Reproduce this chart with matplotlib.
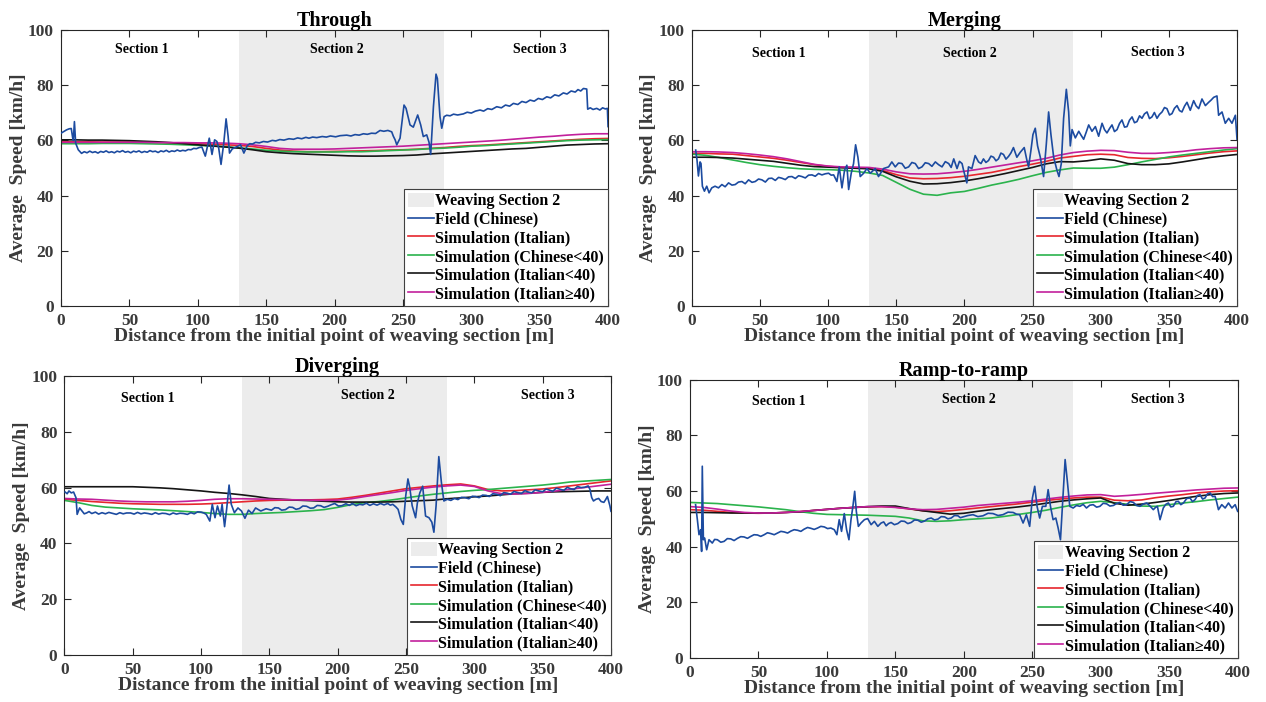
import numpy as np
import matplotlib
matplotlib.use("Agg")
import matplotlib.pyplot as plt
from matplotlib.patches import Patch
from matplotlib.lines import Line2D

plt.rcParams['font.family'] = ['Liberation Serif', 'DejaVu Serif']
plt.rcParams['font.weight'] = 'bold'

# positions (m) where the simulated curves were read
SIM_X = np.arange(0, 401, 10)

# ---------------- Through ----------------
through_field_x = [0, 2, 4, 6, 7.5, 8.5, 9, 9.8, 10.7, 12.6, 15, 17, 19, 21, 23, 25, 27, 29, 31, 33, 35, 37, 39, 41, 43, 45,
                   47, 49, 51, 53, 55, 57, 59, 61, 63, 65, 67, 69, 71, 73, 75, 77, 79, 81, 83, 85, 87, 89, 91, 93, 95, 97,
                   99, 101, 103, 105.5, 108.4, 110.4, 112.3, 114, 115.3, 117, 119, 120.7, 122.2, 123.2, 125.2, 128.8,
                   131.3, 133.7, 136.2, 138, 140, 142.3, 145, 148, 151, 154.5, 157, 160, 163, 166.7, 170, 173, 176, 179,
                   181.3, 184, 187, 191, 194, 197, 200.8, 204, 208.9, 212, 215, 218, 221.1, 224, 227, 230, 233.3, 236,
                   239, 241.8, 243, 244.3, 245.5, 247.9, 250.8, 252.3, 255.2, 257.6, 260.8, 263, 264.9, 267.4, 269.1,
                   270.3, 272.3, 274.2, 275.2, 277.1, 278.4, 280.1, 282, 284.5, 287, 290, 294.2, 297, 300, 303, 306.4,
                   309, 312, 315, 318.6, 322, 325, 328, 330.8, 334, 337, 340, 343, 346, 349, 352, 355.2, 358, 361, 364,
                   367.3, 370, 373, 376, 378, 380, 382, 384.4, 385.1, 387, 389, 391.7, 394, 396, 398, 399.5, 400]
through_field_y = [62.6, 63.2, 63.8, 64.2, 64.3, 61, 60, 66.8, 59, 56.6, 55.3, 55.9, 55.5, 56.1, 55.6, 55.9, 55.4, 56, 55.7,
                   56.2, 55.6, 55.9, 55.5, 56.1, 55.8, 56.3, 55.7, 56, 55.5, 56.1, 55.8, 56.2, 55.6, 56, 55.7, 56.3, 55.9,
                   56.1, 55.6, 56.2, 55.9, 56.4, 55.8, 56.2, 56, 56.5, 56.1, 56.4, 56.2, 56.7, 56.6, 57.1, 57, 57.4, 57.6,
                   54.3, 60.8, 54.9, 60.2, 59.6, 57.2, 51.3, 59, 67.8, 61.4, 55.4, 56.9, 57.8, 58.4, 55.4, 58.1, 58.8,
                   58.7, 59.3, 59.1, 59.6, 59.4, 60, 59.8, 60.3, 60.1, 60.6, 60.4, 60.9, 60.6, 61.1, 60.8, 61.2, 61, 61.4,
                   61.2, 61.6, 61.3, 61.7, 61.9, 61.6, 62.1, 61.9, 62.4, 62.2, 62.6, 62.5, 63.6, 63.3, 63.6, 63.1, 61.5,
                   60.2, 58.4, 60.8, 72.8, 71.6, 65.6, 64.8, 69.2, 65.6, 61.4, 62, 59.3, 54.9, 72.2, 84, 82.4, 68.6, 64.4,
                   68.6, 69.1, 68.9, 69.5, 69.2, 69.6, 70.2, 69.9, 70.6, 71, 70.6, 71.5, 71.2, 72.2, 71.8, 72.8, 72.4,
                   73.4, 73, 74.1, 73.7, 74.6, 74.2, 75.2, 74.8, 75.8, 75.4, 76.5, 76.1, 77.2, 76.8, 77.9, 77.5, 78.4,
                   77.9, 78.8, 78.6, 71.3, 71.8, 71.2, 71.6, 71, 71.8, 71.4, 71.6, 65]
through_red = [59.5, 59.5, 59.5, 59.4, 59.4, 59.4, 59.3, 59.2, 59.1, 58.9, 58.8, 58.6, 58.4, 58.2, 57.8, 57.1, 56.5, 56.1,
               55.9, 55.9, 56, 56.1, 56.2, 56.3, 56.5, 56.6, 56.8, 57.1, 57.4, 57.8, 58.1, 58.3, 58.6, 58.9, 59.2, 59.5,
               59.8, 60.1, 60.4, 60.6, 60.7]
through_green = [58.8, 58.8, 58.8, 58.9, 58.9, 58.9, 58.8, 58.7, 58.6, 58.4, 58.2, 58, 57.7, 57.3, 56.9, 56.4, 56.1, 55.9,
                 55.8, 55.8, 55.8, 55.9, 55.9, 56.1, 56.3, 56.5, 56.7, 57, 57.2, 57.5, 57.9, 58.1, 58.4, 58.7, 59, 59.3,
                 59.6, 59.9, 60.1, 60.2, 60.3]
through_black = [60.2, 60.2, 60.1, 60.1, 60, 59.9, 59.7, 59.5, 59.2, 58.8, 58.4, 58, 57.6, 57.2, 56.6, 55.9, 55.5, 55.2,
                 55, 54.8, 54.6, 54.4, 54.3, 54.3, 54.4, 54.5, 54.7, 55.1, 55.4, 55.7, 56, 56.3, 56.6, 56.9, 57.1, 57.5,
                 57.9, 58.3, 58.5, 58.7, 58.8]
through_magenta = [59.3, 59.3, 59.3, 59.3, 59.3, 59.3, 59.3, 59.2, 59.2, 59.2, 59.1, 59.1, 59, 58.8, 58.4, 57.8, 57.1,
                   56.8, 56.8, 56.8, 56.9, 57.1, 57.3, 57.5, 57.7, 57.9, 58.2, 58.5, 58.8, 59.1, 59.4, 59.7, 60, 60.4,
                   60.8, 61.2, 61.5, 61.9, 62.2, 62.4, 62.4]

# ---------------- Merging ----------------
merging_field_x = [2.9, 3.9, 4.9, 6.1, 6.8, 7.8, 9.3, 11, 12.7, 14.7, 17.1, 19.6, 22.1, 24.5, 27, 29.5, 31.9, 34.3, 36.8,
                   39.2, 41.7, 44.2, 46.6, 49, 51.5, 54, 56.4, 58.8, 61.3, 63.7, 66.1, 68.6, 71, 73.5, 76, 78.4, 80.8,
                   83.3, 85.7, 88.2, 90.6, 93, 95.5, 98, 100.4, 102.3, 104.1, 106.5, 108.2, 110.2, 112.1, 113.8, 115.1,
                   117, 118.7, 120.2, 121.9, 123.6, 126.1, 128.5, 131, 134.6, 137, 140.7, 144.4, 146.8, 149.3, 151.7,
                   154.2, 156.6, 159.1, 161.5, 164, 166.4, 168.9, 171.3, 173.8, 176.2, 178.7, 181.1, 183.6, 186, 188.5,
                   190.3, 192.2, 194.6, 196.4, 198.3, 199.4, 201.8, 203, 205.5, 207.9, 210.4, 212.2, 214, 215.8, 217.7,
                   219.5, 221.4, 223.2, 225, 226.8, 228.7, 230.5, 232.4, 234.2, 236, 238.5, 241, 243.9, 245.9, 247.1,
                   248.8, 250.3, 252, 253.7, 255.7, 258.1, 260.1, 261.8, 263.5, 265.5, 267.9, 269.4, 271.1, 272.8,
                   274.8, 276.5, 277.7, 279, 281.4, 283.9, 285.7, 287.5, 289.4, 291.2, 293.6, 296.1, 298.5, 301, 302.8,
                   304.6, 306.5, 308.3, 310.1, 312, 313.8, 315.6, 317.5, 319.3, 321.1, 323, 324.8, 326.6, 328.5, 330.3,
                   332.1, 334, 335.8, 337.6, 339.4, 341.3, 343.1, 345, 346.8, 348.6, 350.5, 352.3, 354.1, 356, 357.8,
                   359.6, 361.5, 363.3, 365.7, 368.2, 370, 371.9, 374.3, 376.8, 379.2, 381, 382.9, 385.3, 386.5, 389,
                   391.4, 393.9, 396.3, 398.8, 400]
merging_field_y = [56.5, 52.7, 47.1, 52.2, 51.6, 43.4, 41.6, 43.4, 41, 42.8, 43.4, 42.8, 44, 43.2, 44.6, 43.8, 44, 44.9,
                   45.1, 44.3, 45.7, 44.8, 45.1, 46, 45.7, 44.9, 46.2, 46.3, 45.5, 46.6, 46.3, 45.8, 46.8, 46.9, 46.2,
                   47.2, 46.9, 46.4, 47.4, 47.5, 47, 48, 47.5, 47.9, 48.1, 47.4, 47.5, 45.1, 50.4, 42.8, 49.2, 51, 42.2,
                   48.1, 51.6, 58.4, 53.9, 46.9, 48.1, 49.8, 48.1, 49.8, 46.9, 49.8, 50.4, 52.2, 50.4, 51.8, 51.6, 49.9,
                   50.4, 52, 51.6, 49.8, 50.4, 51.9, 51.6, 50.6, 52.2, 51.2, 50.4, 52.3, 51.6, 50.2, 53.3, 49.8, 52.4,
                   51.6, 49.2, 44.6, 50.4, 49.8, 54.5, 52.2, 51.6, 53.3, 52, 52.7, 54.3, 53.9, 52.6, 53.3, 55.4, 54.9,
                   53.2, 54.2, 55.5, 57.4, 53.9, 55.7, 57.4, 52.7, 50.4, 56.3, 62.1, 64.4, 58, 53.9, 46.9, 58.6, 70.3,
                   62.1, 53.9, 49.2, 46.9, 51.6, 68, 78.5, 70.3, 58, 63.9, 60.9, 63.3, 61.8, 60.4, 63, 65.6, 63.3, 65,
                   61.5, 66.2, 63.9, 62.7, 64.3, 65.6, 63.2, 63.9, 66.1, 67.4, 64.8, 65, 67.3, 68.5, 66.4, 66.8, 68.9,
                   68, 69.6, 70.3, 67.9, 68.5, 70.1, 68, 69.4, 70.3, 71.9, 71.5, 69.2, 69.7, 71.6, 72.6, 70.8, 70.3,
                   72.4, 73.8, 70.9, 74.4, 72.5, 71.5, 75, 72.6, 73.8, 74.6, 75.6, 76.1, 69.1, 70.3, 66.2, 68, 66.2,
                   69.1, 60.4]
merging_red = [55.3, 55.3, 55.1, 55, 54.5, 54, 53.5, 52.8, 52, 51.2, 50.6, 50.2, 50.1, 49.9, 49.1, 47.6, 46.4, 46.1, 46.2,
               46.5, 47, 47.7, 48.4, 49.4, 50.5, 51.4, 52.4, 53.6, 54.2, 54.8, 55, 54.8, 53.8, 53.5, 53.4, 53.7, 54.2,
               54.8, 55.4, 55.9, 56.2]
merging_green = [55, 54.6, 53.8, 52.9, 52, 51.2, 50.6, 50.1, 49.7, 49.5, 49.4, 49.2, 48.8, 48.2, 47.3, 44.8, 42.3, 40.5,
                 40.1, 41, 41.5, 42.6, 43.8, 44.8, 45.9, 47.2, 48.4, 49.3, 50, 49.9, 49.9, 50.3, 51.2, 52.2, 53.1, 54,
                 54.7, 55.3, 55.9, 56.5, 57]
merging_black = [53.9, 53.9, 53.8, 53.6, 53.2, 52.8, 52.4, 51.7, 51, 50.5, 50.3, 50.1, 49.9, 49.7, 48.8, 46.8, 45.2, 44.2,
                 44.3, 44.7, 45.3, 46.1, 47, 48, 49.1, 50.2, 51.5, 52.3, 52.2, 52.6, 53.3, 52.8, 51.6, 51.2, 51.2, 51.5,
                 52.2, 53, 53.8, 54.4, 54.9]
merging_magenta = [55.9, 55.9, 55.8, 55.6, 55.2, 54.7, 54.1, 53.3, 52.3, 51.3, 50.7, 50.4, 50.3, 50.2, 49.6, 48.6, 47.9,
                   47.8, 47.9, 48.3, 48.8, 49.5, 50.3, 51.1, 51.9, 52.6, 53.5, 54.7, 55.6, 56.1, 56.4, 56.3, 55.7, 55.3,
                   55.3, 55.6, 56, 56.6, 57, 57.3, 57.4]

# ---------------- Diverging ----------------
diverging_field_x = [0.5, 2, 3.3, 5, 6.7, 8.5, 9.3, 11.1, 12.9, 14.5, 16.2, 18, 20, 22.7, 25, 27.5, 30, 32.5, 35.5, 38,
                     40.5, 43, 45.5, 48.4, 51, 53.5, 56, 58.5, 61.3, 64, 66.5, 69, 71.5, 74.2, 77, 79.5, 82, 84.5, 87.1,
                     90, 92.5, 95, 97.5, 100, 102, 103.8, 106.4, 108.2, 110.2, 112, 114.1, 115.4, 117.2, 118.7, 120.5,
                     122.1, 124.4, 127, 129.6, 132.1, 134.7, 137.3, 139.9, 143.7, 147.6, 151.5, 154, 156.6, 159, 161.8,
                     164.5, 167, 169.5, 172, 174.5, 177.2, 180, 182.4, 185, 187.5, 190, 192.7, 195, 197.8, 200.5, 203,
                     206, 208.5, 210.7, 213.5, 216, 218.4, 221, 223.5, 226.1, 228.8, 231.3, 233.9, 236.6, 238.5, 240.3,
                     242.5, 244.2, 246.2, 248, 249.8, 251.4, 252.7, 254.5, 257, 258.3, 260.1, 262.2, 264.3, 266.8,
                     268.9, 270.4, 272, 274, 275.9, 277.7, 280.2, 282.8, 285.4, 288, 290.5, 293.1, 296, 298.5, 300.8,
                     303.5, 306, 308.6, 311, 313.5, 316.3, 319, 321.5, 324, 326.5, 329, 331.8, 334.5, 337, 339.5, 342,
                     344.6, 347.2, 350, 352.5, 355, 357.5, 360, 362.7, 365.5, 368, 370.4, 373, 375.5, 378.1, 380.7,
                     383.3, 384.6, 385.9, 387.2, 389, 391, 392.8, 394.8, 396, 397.4, 399.2, 400]
diverging_field_y = [58.4, 57.8, 58.8, 58.1, 58.4, 56.3, 50.4, 52.7, 51.6, 50.6, 50.9, 51.4, 50.7, 51.2, 50.5, 51, 50.6,
                     51.1, 50.7, 50.4, 51, 50.6, 50.9, 50.9, 50.5, 51.1, 50.6, 50.9, 50.7, 50.4, 51, 50.5, 50.8, 50.7,
                     50.3, 50.9, 50.5, 50.8, 50.7, 50.4, 51, 50.6, 51.3, 51.2, 50.9, 50.4, 48, 54, 49.2, 53.4, 49.8, 54,
                     46, 52.2, 60.9, 54, 51, 52.7, 51.6, 49, 51.9, 50.7, 52.7, 51.6, 52.4, 51.9, 52.8, 52.7, 51.9, 52.1,
                     53, 52.9, 52.2, 52.5, 53.4, 53.3, 52.6, 52.7, 53.6, 53.5, 52.9, 53.3, 53.8, 54.3, 53.4, 53.5, 54.2,
                     53.6, 54.3, 53.5, 54, 53.8, 54.4, 53.6, 54.2, 53.7, 54.3, 53.8, 54.3, 53.7, 54, 53.1, 52.2, 48.6,
                     46.8, 57.1, 63.1, 60.1, 53.5, 49.2, 54.5, 58.1, 60.5, 49.8, 49.2, 47.6, 44, 53.5, 71.1, 61.8, 55.2,
                     55.8, 55.4, 56.1, 55.7, 56.5, 56.4, 56, 56.9, 56.8, 56.4, 57.3, 57.2, 56.8, 57.8, 57.6, 57.1, 58.2,
                     58, 57.6, 58.6, 58.2, 57.9, 58.9, 58.4, 58.1, 59.2, 58.8, 58.5, 59.5, 59.1, 58.7, 59.8, 59.4, 59,
                     60.1, 59.6, 59.3, 60.4, 60, 60.1, 60.6, 59.4, 56.4, 55.2, 55.8, 56.1, 55, 54.7, 55.6, 56.8, 53.5,
                     51.5]
diverging_red = [55.8, 55.4, 55, 54.7, 54.4, 54.2, 54.1, 54, 54, 54, 54.1, 54.3, 54.6, 54.9, 55.2, 55.4, 55.5, 55.5,
                 55.6, 55.7, 55.9, 56.5, 57.2, 58, 58.8, 59.6, 60.1, 60.6, 61, 61.3, 60.6, 59.3, 58.8, 58.9, 59.2, 59.5,
                 60, 60.6, 61.2, 61.8, 62.4]
diverging_green = [55.4, 54.6, 53.6, 53, 52.7, 52.4, 52.2, 52, 51.7, 51.4, 51.1, 50.7, 50.4, 50.4, 50.7, 50.9, 51.1,
                   51.4, 51.7, 52.1, 52.9, 53.9, 54.6, 55, 55.6, 56.3, 57, 57.6, 58.1, 58.6, 59, 59.3, 59.7, 60.1, 60.5,
                   60.9, 61.4, 62, 62.3, 62.6, 62.9]
diverging_black = [60.3, 60.3, 60.3, 60.3, 60.3, 60.3, 60.1, 59.9, 59.6, 59.2, 58.8, 58.3, 57.9, 57.4, 56.8, 56.1, 55.8,
                   55.5, 55.3, 55.1, 54.9, 54.8, 54.8, 54.8, 54.9, 55.1, 55.3, 55.5, 56, 56.3, 56.7, 57, 57.4, 57.8, 58,
                   58.3, 58.5, 58.6, 58.7, 58.8, 58.8]
diverging_magenta = [56.1, 55.9, 55.8, 55.5, 55.2, 55, 54.9, 54.9, 54.9, 55.1, 55.4, 55.8, 56, 56, 55.9, 55.8, 55.7,
                     55.6, 55.5, 55.4, 55.5, 56, 56.8, 57.5, 58.2, 59, 59.6, 60.2, 60.6, 60.9, 60.4, 58.8, 57.8, 57.7,
                     57.9, 58.3, 58.8, 59.4, 60, 60.6, 61.2]

# ---------------- Ramp-to-ramp ----------------
ramp_field_x = [4.1, 5.4, 6.6, 7.8, 8.5, 9, 9.8, 10.7, 12.2, 13.9, 16.3, 18, 20, 22.5, 24.9, 27.3, 29.8, 32.2, 34.7,
                37.1, 39.5, 42, 44.4, 46.8, 49.3, 51.7, 54.2, 56.6, 59.1, 61.5, 63.9, 66.4, 68.8, 71.3, 73.7, 76.1,
                78.6, 81, 83.4, 85.9, 88.3, 90.7, 93.2, 95.6, 98.1, 100.5, 102.9, 105.4, 107.3, 109, 110.7, 112.7,
                114.4, 116.1, 117.6, 119, 120.3, 121.5, 123, 124.9, 127.4, 129.8, 132.3, 134.7, 137.2, 139.6, 141.5,
                143.3, 145, 146.9, 149.3, 151.8, 154.2, 156.7, 159.1, 161.6, 164, 166.4, 168.9, 171.3, 173.7, 176.2,
                178.6, 181.1, 183.5, 186, 188.4, 190.8, 193.2, 195.7, 197.5, 199.4, 203, 206.7, 210.3, 214, 217.7,
                221.3, 225, 228.6, 232.3, 236, 238.4, 240.8, 243.3, 245.7, 248.1, 250.1, 251.8, 253.5, 255.4, 257.4,
                259.9, 261.6, 263.3, 265.2, 267.2, 268.9, 270.6, 272.6, 274, 275.5, 277.4, 279.9, 282.3, 284.8, 287.2,
                289.6, 292, 294.5, 297, 299.4, 301.8, 304.3, 306.7, 309.2, 311.6, 314, 316.5, 318.9, 321.4, 323.8,
                326.3, 328.7, 331.2, 333.6, 336, 338.4, 340, 341.4, 343.3, 345.7, 347.5, 349.4, 351.2, 353, 355, 356.7,
                358.5, 360.4, 362.8, 365.2, 367, 368.9, 370.7, 372.5, 374.4, 376.2, 378, 379.9, 381.7, 383.5, 384.5,
                386, 388.4, 390.9, 393.3, 395.8, 398.2, 400]
ramp_field_y = [55.1, 49.7, 44.3, 46.1, 38.3, 68.9, 42.5, 43.1, 38.9, 42.5, 41.3, 42.6, 42.5, 41.6, 41.9, 42.9, 42.8,
                42.2, 43, 43.6, 43.5, 43, 43.7, 44.3, 44.2, 43.7, 44.3, 45, 44.7, 44.3, 44.9, 45.5, 45.3, 44.9, 45.6,
                46.1, 45.9, 45.5, 46.3, 46.9, 46.6, 46.2, 46.7, 47.3, 47.1, 46.5, 46.7, 46.1, 44.3, 49.7, 45.5, 51.9,
                46.1, 42.5, 49.7, 54.5, 59.9, 52.7, 47.3, 48.5, 49.7, 50.1, 47.9, 49.1, 47.3, 48.5, 48.9, 47.5, 48.3,
                48.7, 47.9, 48.3, 49.2, 49.1, 48.3, 48.7, 49.6, 49.5, 48.8, 49.2, 50, 50.3, 49.6, 49.9, 50.8, 50.7, 50,
                50.3, 51.2, 51.1, 50.4, 50.7, 51.2, 51.5, 50.8, 51.1, 52, 51.9, 51.2, 51.5, 52.4, 52.3, 51.7, 51.5,
                48.5, 51.5, 47.3, 57.5, 61.7, 54.5, 50.3, 54.5, 54.5, 60.5, 54.5, 49.7, 50.3, 46.7, 42.5, 59.3, 71.3,
                64.1, 54.5, 53.9, 54.8, 54.5, 55.2, 53.9, 54.9, 55.1, 54.2, 54.5, 55.6, 55.4, 54.6, 54.8, 55.5, 55.9,
                54.9, 55.1, 56.2, 55.9, 54.8, 54.5, 55.4, 55.7, 54.6, 53.3, 54.1, 54.5, 49.7, 53.9, 55.2, 55.7, 54.3,
                54.5, 56.2, 56.3, 55.1, 55.7, 57.3, 57.5, 56.2, 56.9, 58.4, 58.7, 57.1, 57.5, 59, 59.3, 58, 58.1, 56.4,
                53.3, 55.1, 53.9, 55.7, 53.9, 55.1, 52.7]
ramp_red = [53.3, 53.1, 52.7, 52.3, 52.1, 52, 52.1, 52.3, 52.6, 53, 53.4, 53.8, 54.1, 54.3, 54.4, 54.2, 53.6, 52.9, 52.6,
            52.9, 53.4, 53.9, 54.4, 54.9, 55.4, 56, 56.6, 57.1, 57.5, 57.8, 57.8, 56.7, 56.5, 56.8, 57.6, 58.2, 58.7,
            59.3, 59.7, 60, 60.1]
ramp_green = [55.9, 55.7, 55.5, 55.1, 54.7, 54.3, 53.8, 53.3, 52.6, 52, 51.6, 51.5, 51.4, 51.3, 51.1, 50.9, 50.3, 49.3,
              49.1, 49.3, 49.7, 50, 50.3, 50.9, 51.6, 52.3, 53.1, 54.1, 55, 55.8, 56.3, 55.8, 55.2, 54.6, 54.5, 55.1,
              55.7, 56.2, 56.8, 57.3, 57.8]
ramp_black = [52.3, 52.3, 52.2, 52.1, 52.1, 52.1, 52.1, 52.3, 52.5, 53, 53.4, 53.8, 54.1, 54.4, 54.6, 54.6, 53.7, 52.9,
              52.3, 51.7, 52, 52.7, 53.3, 53.8, 54.3, 54.9, 55.6, 56.3, 56.8, 57.2, 57.5, 55.6, 54.9, 55.3, 55.9, 56.6,
              57.4, 58.1, 58.7, 59.1, 59.3]
ramp_magenta = [54.4, 54.1, 53.5, 52.8, 52.3, 52.1, 52.1, 52.3, 52.6, 53, 53.4, 53.8, 54.1, 54.4, 54.4, 54.1, 53.6, 53.3,
                53.4, 53.8, 54.2, 54.8, 55.2, 55.6, 56, 56.5, 57.1, 57.7, 58.2, 58.6, 58.7, 58.1, 58.4, 58.8, 59.2, 59.6,
                60, 60.4, 60.7, 61, 61.1]

WEAVE_START, WEAVE_END = 130, 280
SECTION_LABELS = ['Section 1', 'Section 2', 'Section 3']
LEGEND_LABELS = ['Weaving Section 2', 'Field (Chinese)', 'Simulation (Italian)', 'Simulation (Chinese<40)',
                 'Simulation (Italian<40)', 'Simulation (Italian\u226540)']

C_FIELD = '#1c4ba0'
C_RED = '#e6262e'
C_GREEN = '#2bb34d'
C_BLACK = '#151515'
C_MAGENTA = '#c2209c'
C_SPAN = '#ececec'
C_TXT = '#3a3a3a'


def draw_panel(ax, title, fx, fy, red, green, black, magenta, sec_pos):
    ax.axvspan(WEAVE_START, WEAVE_END, color=C_SPAN, lw=0, zorder=0)
    ax.plot(SIM_X, red, color=C_RED, lw=1.2, zorder=2)
    ax.plot(SIM_X, green, color=C_GREEN, lw=1.2, zorder=2)
    ax.plot(SIM_X, black, color=C_BLACK, lw=1.2, zorder=2)
    ax.plot(SIM_X, magenta, color=C_MAGENTA, lw=1.2, zorder=2)
    ax.plot(fx, fy, color=C_FIELD, lw=1.2, zorder=3)

    for lab, (sx, sy) in zip(SECTION_LABELS, sec_pos):
        ax.text(sx, sy, lab, ha='center', va='center', fontsize=10, fontweight='bold', color='black')

    ax.set_xlim(0, 400)
    ax.set_ylim(0, 100)
    ax.set_xticks(np.arange(0, 401, 50))
    ax.set_yticks(np.arange(0, 101, 20))
    ax.tick_params(direction='in', top=True, right=True, length=5, width=0.8, labelsize=12.5,
                   labelcolor=C_TXT, color='#262626', pad=5)
    for lbl in ax.get_xticklabels() + ax.get_yticklabels():
        lbl.set_fontweight('bold')
    for sp in ax.spines.values():
        sp.set_color('#262626')
        sp.set_linewidth(0.8)

    ax.set_title(title, fontsize=14.5, fontweight='bold', color='black', pad=3)
    ax.set_xlabel('Distance from the initial point of weaving section [m]', fontsize=14,
                  fontweight='bold', color=C_TXT, labelpad=-1)
    ax.set_ylabel('Average  Speed [km/h]', fontsize=14, fontweight='bold', color=C_TXT, labelpad=1)

    handles = [Patch(facecolor=C_SPAN, edgecolor='none'),
               Line2D([], [], color=C_FIELD, lw=1.2),
               Line2D([], [], color=C_RED, lw=1.2),
               Line2D([], [], color=C_GREEN, lw=1.2),
               Line2D([], [], color=C_BLACK, lw=1.2),
               Line2D([], [], color=C_MAGENTA, lw=1.2)]
    leg = ax.legend(handles, LEGEND_LABELS, loc='lower right', borderaxespad=0,
                    prop={'weight': 'bold', 'size': 11.5}, frameon=True, fancybox=False, framealpha=1,
                    edgecolor='#404040', handlelength=1.6, handleheight=1.0, handletextpad=0.1,
                    labelspacing=0.12, borderpad=0.25)
    leg.get_frame().set_linewidth(0.8)
    leg.set_zorder(5)


fig = plt.figure(figsize=(12.66, 7.02), dpi=100)
ax1 = fig.add_axes([0.0482, 0.5641, 0.4321, 0.3932])
ax2 = fig.add_axes([0.5464, 0.5641, 0.4307, 0.3932])
ax3 = fig.add_axes([0.0509, 0.0670, 0.4317, 0.3974])
ax4 = fig.add_axes([0.5450, 0.0627, 0.4326, 0.3964])

draw_panel(ax1, 'Through', through_field_x, through_field_y, through_red, through_green, through_black,
           through_magenta, [(59, 92.8), (202, 92.8), (350, 93)])
draw_panel(ax2, 'Merging', merging_field_x, merging_field_y, merging_red, merging_green, merging_black,
           merging_magenta, [(64, 91.3), (204, 91.6), (342, 92)])
draw_panel(ax3, 'Diverging', diverging_field_x, diverging_field_y, diverging_red, diverging_green, diverging_black,
           diverging_magenta, [(61, 92.1), (222, 93), (354, 93)])
draw_panel(ax4, 'Ramp-to-ramp', ramp_field_x, ramp_field_y, ramp_red, ramp_green, ramp_black, ramp_magenta,
           [(65, 92), (204, 93), (342, 93)])

fig.savefig('out.png', dpi=100)
